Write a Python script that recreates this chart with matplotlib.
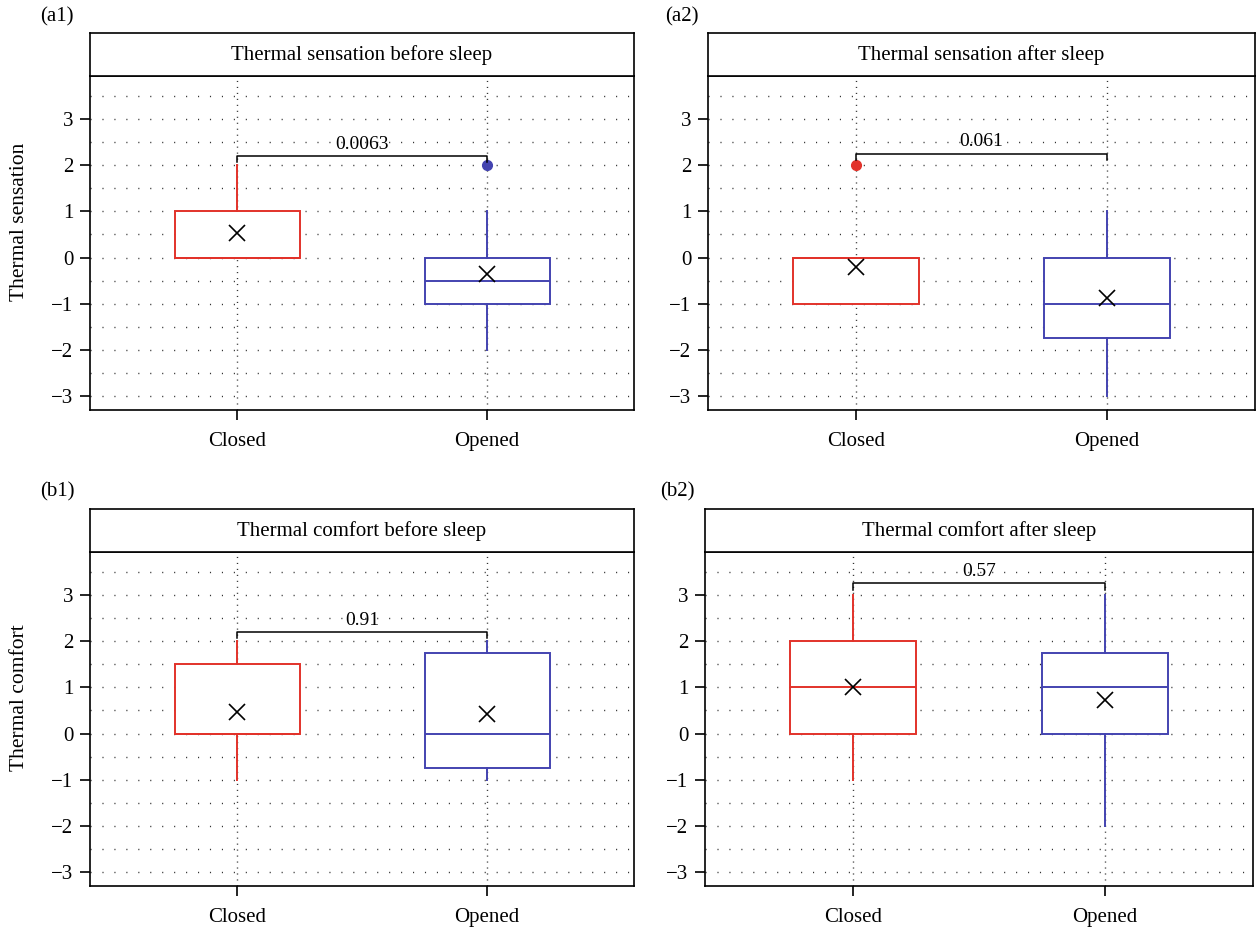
import matplotlib
matplotlib.use('Agg')
import matplotlib.pyplot as plt

plt.rcParams['font.family'] = ['Liberation Serif', 'DejaVu Serif']

# categorias y datos
GRUPOS = ['Closed', 'Opened']
TITULOS = ['Thermal sensation before sleep', 'Thermal sensation after sleep',
           'Thermal comfort before sleep', 'Thermal comfort after sleep']
ETIQUETAS = ['(a1)', '(a2)', '(b1)', '(b2)']
YLABELS = ['Thermal sensation', None, 'Thermal comfort', None]

# cuartiles por panel: [Closed, Opened]
Q1 = [[0, -1], [-1, -1.75], [0, -0.75], [0, 0]]
MEDIANA = [[0, -0.5], [0, -1], [0, 0], [1, 1]]
Q3 = [[1, 0], [0, 0], [1.5, 1.75], [2, 1.75]]
BIGOTE_INF = [[0, -2], [-1, -3], [-1, -1], [-1, -2]]
BIGOTE_SUP = [[2, 1], [0, 1], [2, 2], [3, 3]]
MEDIA = [[0.53, -0.35], [-0.2, -0.88], [0.47, 0.42], [1.0, 0.72]]
ATIPICOS = [[[], [2]], [[2], []], [[], []], [[], []]]
P_VALORES = ['0.0063', '0.061', '0.91', '0.57']
ALTURA_P = [2.2, 2.25, 2.2, 3.25]

COLORES = ['#e2322a', '#4343b0']

# posiciones de los ejes en pixeles (izq, der, arriba, abajo)
W, H = 1257, 930
CAJAS = [(90, 634, 76, 410), (708, 1255, 76, 410),
         (90, 634, 552, 886), (705, 1253, 552, 886)]
ALTO_TIRA = 43
POS_ETIQUETA = [(40, 17), (665, 17), (40, 492), (660, 492)]

fig = plt.figure(figsize=(W / 100, H / 100), dpi=100)

for i in range(4):
    izq, der, arr, aba = CAJAS[i]
    ax = fig.add_axes([izq / W, 1 - aba / H, (der - izq) / W, (aba - arr) / H])

    stats = []
    for j in range(2):
        stats.append({
            'q1': Q1[i][j], 'med': MEDIANA[i][j], 'q3': Q3[i][j],
            'whislo': BIGOTE_INF[i][j], 'whishi': BIGOTE_SUP[i][j],
            'mean': MEDIA[i][j], 'fliers': ATIPICOS[i][j], 'label': GRUPOS[j],
        })

    # rejilla punteada
    for y in [k * 0.5 for k in range(-6, 8)]:
        ax.axhline(y, color='#333333', lw=1.0, ls=(0, (0.8, 7.8)), zorder=0)
    for x in [1, 2]:
        ax.axvline(x, color='#333333', lw=1.0, ls=(0, (0.8, 3.5)), zorder=0)

    for j in range(2):
        c = COLORES[j]
        ax.bxp([stats[j]], positions=[j + 1], widths=0.5, showmeans=True,
               showcaps=False, patch_artist=True,
               boxprops=dict(facecolor='white', edgecolor=c, lw=1.4),
               medianprops=dict(color=c, lw=1.4),
               whiskerprops=dict(color=c, lw=1.4),
               flierprops=dict(marker='o', markerfacecolor=c, markeredgecolor=c,
                               markersize=7),
               meanprops=dict(marker='x', markeredgecolor='black',
                              markersize=11, markeredgewidth=1.2),
               zorder=3)

    # corchete con p-valor
    h = ALTURA_P[i]
    ax.plot([1, 1, 2, 2], [h - 0.14, h, h, h - 0.14], color='black', lw=1.1, zorder=4)
    ax.text(1.5, h + 0.07, P_VALORES[i], ha='center', va='bottom', fontsize=14)

    ax.set_xlim(0.412, 2.588)
    ax.set_ylim(-3.3, 3.93)
    ax.set_yticks([-3, -2, -1, 0, 1, 2, 3])
    ax.set_yticklabels(['\u22123', '\u22122', '\u22121', '0', '1', '2', '3'])
    ax.set_xticks([1, 2])
    ax.set_xticklabels(GRUPOS)
    ax.tick_params(axis='both', labelsize=15, length=7, width=1.2, direction='out')
    ax.tick_params(axis='x', pad=9)
    ax.tick_params(axis='y', pad=5)
    for s in ax.spines.values():
        s.set_linewidth(1.2)

    # tira del titulo
    tira = ax.inset_axes([0, 1, 1, ALTO_TIRA / (aba - arr)])
    tira.set_xticks([])
    tira.set_yticks([])
    for s in tira.spines.values():
        s.set_linewidth(1.2)
    tira.text(0.5, 0.48, TITULOS[i], ha='center', va='center', fontsize=15,
              transform=tira.transAxes)

    if YLABELS[i]:
        fig.text(20 / W, 1 - (arr - ALTO_TIRA + aba) / 2 / H, YLABELS[i],
                 rotation=90, ha='center', va='center', fontsize=15.5)

    lx, ly = POS_ETIQUETA[i]
    fig.text(lx / W, 1 - ly / H, ETIQUETAS[i], ha='left', va='center', fontsize=15)

fig.savefig('out.png', dpi=100)
